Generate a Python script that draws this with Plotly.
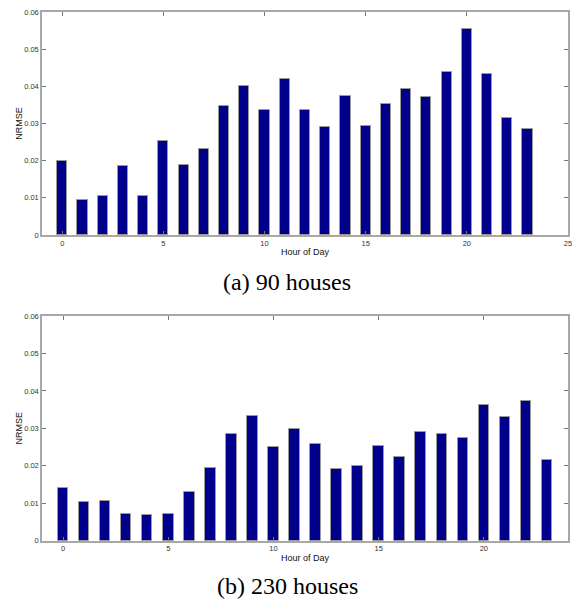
import plotly.graph_objects as go

hours = list(range(24))
nrmse_90 = [0.0199, 0.0095, 0.0105, 0.0187, 0.0105, 0.0254, 0.0189, 0.0232,
            0.0346, 0.0401, 0.0336, 0.0419, 0.0336, 0.0290, 0.0374, 0.0293,
            0.0352, 0.0394, 0.0371, 0.0439, 0.0555, 0.0434, 0.0315, 0.0284]
nrmse_230 = [0.0142, 0.0103, 0.0106, 0.0071, 0.0069, 0.0070, 0.0129, 0.0194,
             0.0285, 0.0334, 0.0249, 0.0297, 0.0259, 0.0192, 0.0200, 0.0253,
             0.0223, 0.0290, 0.0284, 0.0274, 0.0363, 0.0331, 0.0374, 0.0216]
captions = ["(a) 90 houses", "(b) 230 houses"]
x_title = "Hour of Day"
y_title = "NRMSE"

# page body has an 8px margin, so the figure starts at (8, 8) in the window
OFF = 8
W, H = 581 - OFF, 599 - OFF
bar_color = "#00008B"
edge_color = "#9a9a9a"
axis_color = "#a8a8a8"
tick_font = dict(family="Liberation Sans, Arial, sans-serif", size=7.5, color="#333")
label_font = dict(family="Liberation Sans, Arial, sans-serif", size=9, color="#111")
cap_font = dict(family="Liberation Serif, Times New Roman, serif", size=24, color="#000")


def px(v):
    return (v - OFF) / W


def py(v):
    return 1 - (v - OFF) / H


fig = go.Figure()
fig.add_trace(go.Bar(x=hours, y=nrmse_90, width=0.5, xaxis="x", yaxis="y",
                     marker=dict(color=bar_color, line=dict(color=edge_color, width=1)),
                     showlegend=False))
fig.add_trace(go.Bar(x=hours, y=nrmse_230, width=0.5, xaxis="x2", yaxis="y2",
                     marker=dict(color=bar_color, line=dict(color=edge_color, width=1)),
                     showlegend=False))

xdom = [px(42), px(568)]
ydom1 = [py(235), py(12)]
ydom2 = [py(540.7), py(316)]

common_x = dict(tickmode="linear", tick0=0, dtick=5, ticks="inside", ticklen=4,
                tickcolor="#777", showline=True, linecolor=axis_color, linewidth=1.5,
                mirror="ticks", showgrid=False, zeroline=False, tickfont=tick_font,
                automargin=False, ticklabeloverflow="allow",
                title=dict(text=x_title, font=label_font, standoff=2), domain=xdom)
common_y = dict(range=[0, 0.06], tickmode="linear", tick0=0, dtick=0.01, ticks="inside",
                ticklen=4, tickcolor="#777", showline=True, linecolor=axis_color,
                linewidth=1.5, mirror="ticks", showgrid=False, zeroline=False,
                automargin=False, ticklabeloverflow="allow",
                tickfont=tick_font, title=dict(text=y_title, font=label_font, standoff=0))

fig.update_layout(
    width=W, height=H, margin=dict(l=0, r=0, t=0, b=0, autoexpand=False),
    plot_bgcolor="white", paper_bgcolor="white", bargap=0,
    xaxis=dict(common_x, range=[-1, 25], anchor="y"),
    yaxis=dict(common_y, domain=ydom1, anchor="x"),
    xaxis2=dict(common_x, range=[-1, 24], anchor="y2"),
    yaxis2=dict(common_y, domain=ydom2, anchor="x2"),
    annotations=[
        dict(text=captions[0], xref="paper", yref="paper", x=px(287), y=py(282),
             showarrow=False, xanchor="center", yanchor="middle", font=cap_font),
        dict(text=captions[1], xref="paper", yref="paper", x=px(287), y=py(586),
             showarrow=False, xanchor="center", yanchor="middle", font=cap_font),
    ],
)

fig.write_html("out.html")
